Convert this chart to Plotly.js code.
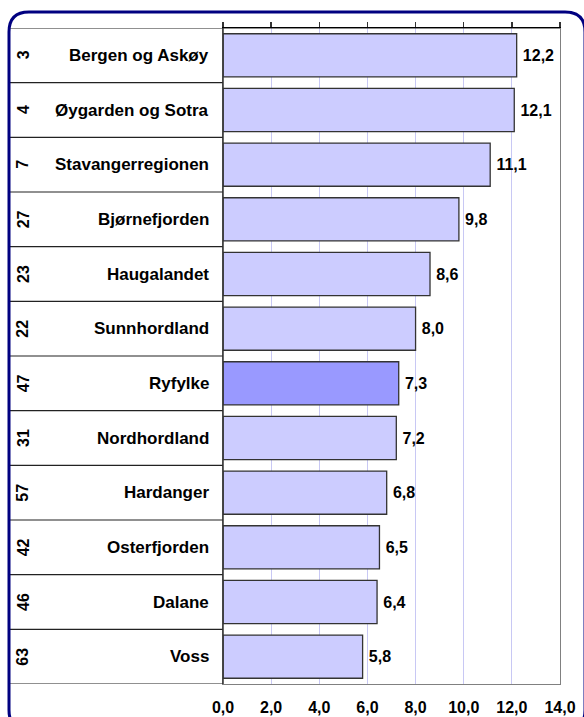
<!DOCTYPE html>
<html>
<head>
<meta charset="utf-8">
<script src="https://cdn.plot.ly/plotly-3.0.1.min.js"></script>
<style>
  html, body { margin: 0; padding: 0; background: #ffffff; }
  #chart { width: 584px; height: 717px; }
</style>
</head>
<body>
<div id="chart"></div>
<script>
// ---- data ----
const regions = ["Bergen og Askøy", "Øygarden og Sotra", "Stavangerregionen", "Bjørnefjorden",
  "Haugalandet", "Sunnhordland", "Ryfylke", "Nordhordland", "Hardanger", "Osterfjorden",
  "Dalane", "Voss"];
const ranks = [3, 4, 7, 27, 23, 22, 47, 31, 57, 42, 46, 63];
const values = [12.2, 12.1, 11.1, 9.8, 8.6, 8.0, 7.3, 7.2, 6.8, 6.5, 6.4, 5.8];
const highlighted = "Ryfylke";
const xTicks = [0, 2, 4, 6, 8, 10, 12, 14];

// ---- styling / geometry ----
const W = 584, H = 717;
const M = { l: 223, r: 24, t: 28, b: 33 };
const PW = W - M.l - M.r, PH = H - M.t - M.b;
const px = x => (x - M.l) / PW;          // page px -> paper x
const py = y => (H - M.b - y) / PH;      // page px -> paper y
const FONT = 'Arial, "Liberation Sans", sans-serif';
const barColor = '#ccccff', barHi = '#9999ff';

const colors = regions.map(r => r === highlighted ? barHi : barColor);

const traces = [
  {
    type: 'bar', orientation: 'h',
    x: values, y: regions,
    marker: { color: colors, line: { color: '#333333', width: 1.3 } },
    texttemplate: '\u2009%{x:.1f}', textposition: 'outside',
    textfont: { family: FONT, size: 16, color: '#000', weight: 'bold' },
    cliponaxis: false, hoverinfo: 'skip'
  },
  {
    type: 'scatter', mode: 'none', x: values, y: regions,
    xaxis: 'x2', yaxis: 'y', hoverinfo: 'skip', showlegend: false
  }
];

// table row lines on the left
const shapes = [];
const n = regions.length;
for (let i = 0; i <= n; i++) {
  shapes.push({
    type: 'line', xref: 'paper', yref: 'y',
    x0: px(10), x1: i === 0 ? 1 : 0, y0: i - 0.5, y1: i - 0.5,
    line: { color: '#222', width: 1.2 }, layer: 'above'
  });
}
// left axis line (dark)
shapes.push({
  type: 'line', xref: 'paper', yref: 'y', x0: 0, x1: 0, y0: -0.5, y1: n - 0.5,
  line: { color: '#333', width: 1.5 }, layer: 'above'
});
// rounded navy frame
(function () {
  const x0 = 9, y0 = 12, x1 = 585, y1 = 730, r = 20;
  const P = (x, y) => px(x) + ',' + py(y);
  const path = 'M' + P(x0 + r, y0) + ' L' + P(x1 - r, y0) + ' Q' + P(x1, y0) + ' ' + P(x1, y0 + r) +
    ' L' + P(x1, y1 - r) + ' Q' + P(x1, y1) + ' ' + P(x1 - r, y1) +
    ' L' + P(x0 + r, y1) + ' Q' + P(x0, y1) + ' ' + P(x0, y1 - r) +
    ' L' + P(x0, y0 + r) + ' Q' + P(x0, y0) + ' ' + P(x0 + r, y0) + ' Z';
  shapes.push({ type: 'path', xref: 'paper', yref: 'paper', path: path,
    line: { color: '#000080', width: 3 }, layer: 'above' });
})();

const annotations = [];
regions.forEach((r, i) => {
  annotations.push({
    xref: 'paper', yref: 'y', x: px(211), y: r, xanchor: 'right', yanchor: 'middle',
    text: r, showarrow: false,
    font: { family: FONT, size: 17, color: '#000', weight: 'bold' }
  });
  annotations.push({
    xref: 'paper', yref: 'y', x: px(23), y: r, xanchor: 'center', yanchor: 'middle',
    text: String(ranks[i]), textangle: -90, showarrow: false,
    font: { family: FONT, size: 16, color: '#000', weight: 'bold' }
  });
});

const layout = {
  width: W, height: H,
  margin: M,
  paper_bgcolor: '#ffffff', plot_bgcolor: '#ffffff',
  separators: ', ',
  showlegend: false,
  bargap: 0.21,
  font: { family: FONT, size: 16, color: '#000', weight: 'bold' },
  xaxis: {
    range: [0, 14], tickvals: xTicks, tickformat: '.1f',
    showgrid: true, gridcolor: '#c8c8f4', gridwidth: 1,
    zeroline: false, showline: true, linecolor: '#808080', linewidth: 1.3,
    ticks: 'outside', ticklen: 8, tickcolor: 'rgba(0,0,0,0)',
    tickfont: { family: FONT, size: 16, color: '#000', weight: 'bold' },
    fixedrange: true
  },
  xaxis2: {
    overlaying: 'x', side: 'top', range: [0, 14], tickvals: xTicks,
    showticklabels: false, showgrid: false, zeroline: false,
    ticks: 'outside', ticklen: 5, tickcolor: '#333', tickwidth: 1.3,
    showline: true, linecolor: '#000', linewidth: 1.2, fixedrange: true
  },
  yaxis: {
    type: 'category', categoryarray: regions, range: [n - 0.5, -0.5],
    showticklabels: false, ticks: '', showgrid: false, zeroline: false,
    showline: true, mirror: true, linecolor: '#808080', linewidth: 1.3,
    fixedrange: true
  },
  shapes: shapes,
  annotations: annotations
};

Plotly.newPlot('chart', traces, layout, { displayModeBar: false, staticPlot: true });
</script>
</body>
</html>
